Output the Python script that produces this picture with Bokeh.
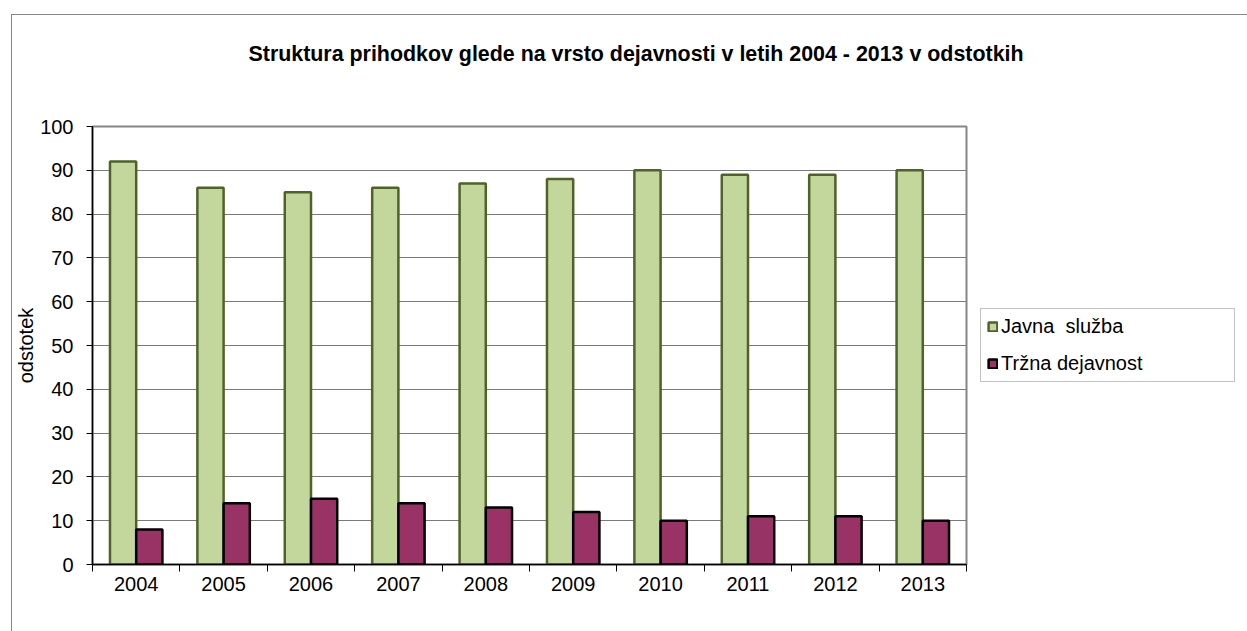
from bokeh.plotting import figure
from bokeh.models import (Range1d, FixedTicker, Legend, LegendItem, ColumnDataSource, Title)
from bokeh.embed import file_html
from bokeh.resources import INLINE

# ---- data ----
years = ["2004", "2005", "2006", "2007", "2008", "2009", "2010", "2011", "2012", "2013"]
javna_sluzba = [92, 86, 85, 86, 87, 88, 90, 89, 89, 90]
trzna_dejavnost = [8, 14, 15, 14, 13, 12, 10, 11, 11, 10]
series_names = ["Javna  služba", "Tržna dejavnost"]
title_text = "Struktura prihodkov glede na vrsto dejavnosti v letih 2004 - 2013 v odstotkih"
y_label = "odstotek"
y_ticks = [0, 10, 20, 30, 40, 50, 60, 70, 80, 90, 100]

FONT = "Liberation Sans"
n = len(years)
centers = [i + 0.5 for i in range(n)]
bw = 0.3

src = ColumnDataSource(dict(
    x1=[c - bw / 2 for c in centers],
    x2=[c + bw / 2 for c in centers],
    js=javna_sluzba,
    td=trzna_dejavnost,
))

p = figure(frame_width=874, frame_height=438, x_range=Range1d(0, n), y_range=Range1d(0, 100),
           output_backend="svg", toolbar_location=None,
           min_border_left=80, min_border_top=111, min_border_right=281, min_border_bottom=67,
           margin=(14, 0, 0, 11))
p.styles = {"border-left": "1px solid #868686", "border-top": "1px solid #868686"}

p.outline_line_color = "#868686"
p.outline_line_width = 2
p.background_fill_color = "white"
p.border_fill_color = "white"

r1 = p.vbar(x="x1", top="js", width=bw, bottom=0, source=src,
            fill_color="#c3d69b", line_color="#4f6228", line_width=2.5)
r2 = p.vbar(x="x2", top="td", width=bw, bottom=0, source=src,
            fill_color="#993366", line_color="black", line_width=2.5)

# title: a blank spacer title next to the frame, the real title above it
p.title.text = ""
p.add_layout(Title(text=" ", standoff=35, text_font=FONT, text_font_size="21.4px"), "above")
p.add_layout(Title(text=title_text, align="left", offset=156, standoff=0,
                   text_font=FONT, text_font_size="21.4px", text_font_style="bold",
                   text_color="black"), "above")

# grid
p.xgrid.grid_line_color = None
p.ygrid.ticker = FixedTicker(ticks=y_ticks)
p.ygrid.grid_line_color = "#7a7a7a"
p.ygrid.grid_line_width = 1
p.ygrid.level = "underlay"

# y axis
ya = p.yaxis[0]
ya.ticker = FixedTicker(ticks=y_ticks)
ya.axis_line_color = "black"
ya.axis_line_width = 1.5
ya.major_tick_out = 6
ya.major_tick_in = 0
ya.major_tick_line_color = "black"
ya.minor_tick_line_color = None
ya.major_label_standoff = 13
ya.major_label_text_font = FONT
ya.major_label_text_font_size = "20px"
ya.major_label_text_color = "black"
ya.axis_label = y_label
ya.axis_label_text_font = FONT
ya.axis_label_text_font_size = "20px"
ya.axis_label_text_font_style = "normal"
ya.axis_label_text_color = "black"
ya.axis_label_standoff = 0

# x axis
xa = p.xaxis[0]
xa.ticker = FixedTicker(ticks=centers, minor_ticks=list(range(n + 1)))
xa.major_label_overrides = {c: y for c, y in zip(centers, years)}
xa.axis_line_color = "black"
xa.axis_line_width = 1.5
xa.major_tick_out = 0
xa.major_tick_in = 0
xa.minor_tick_out = 7
xa.minor_tick_in = 0
xa.minor_tick_line_color = "black"
xa.major_label_standoff = 5
xa.major_label_text_font = FONT
xa.major_label_text_font_size = "20px"
xa.major_label_text_color = "black"

# legend (right side panel, boxed)
legend = Legend(items=[LegendItem(label=series_names[0], renderers=[r1]),
                       LegendItem(label=series_names[1], renderers=[r2])],
                location="left", orientation="vertical", margin=14,
                glyph_width=11, glyph_height=11, label_standoff=3,
                padding=6, spacing=14, label_height=22, label_width=227,
                border_line_color="#868686", border_line_width=1.5,
                background_fill_color="white", background_fill_alpha=1,
                label_text_font=FONT, label_text_font_size="20px",
                label_text_color="black")
p.add_layout(legend, "right")

open("out.html", "w").write(file_html(p, INLINE))
